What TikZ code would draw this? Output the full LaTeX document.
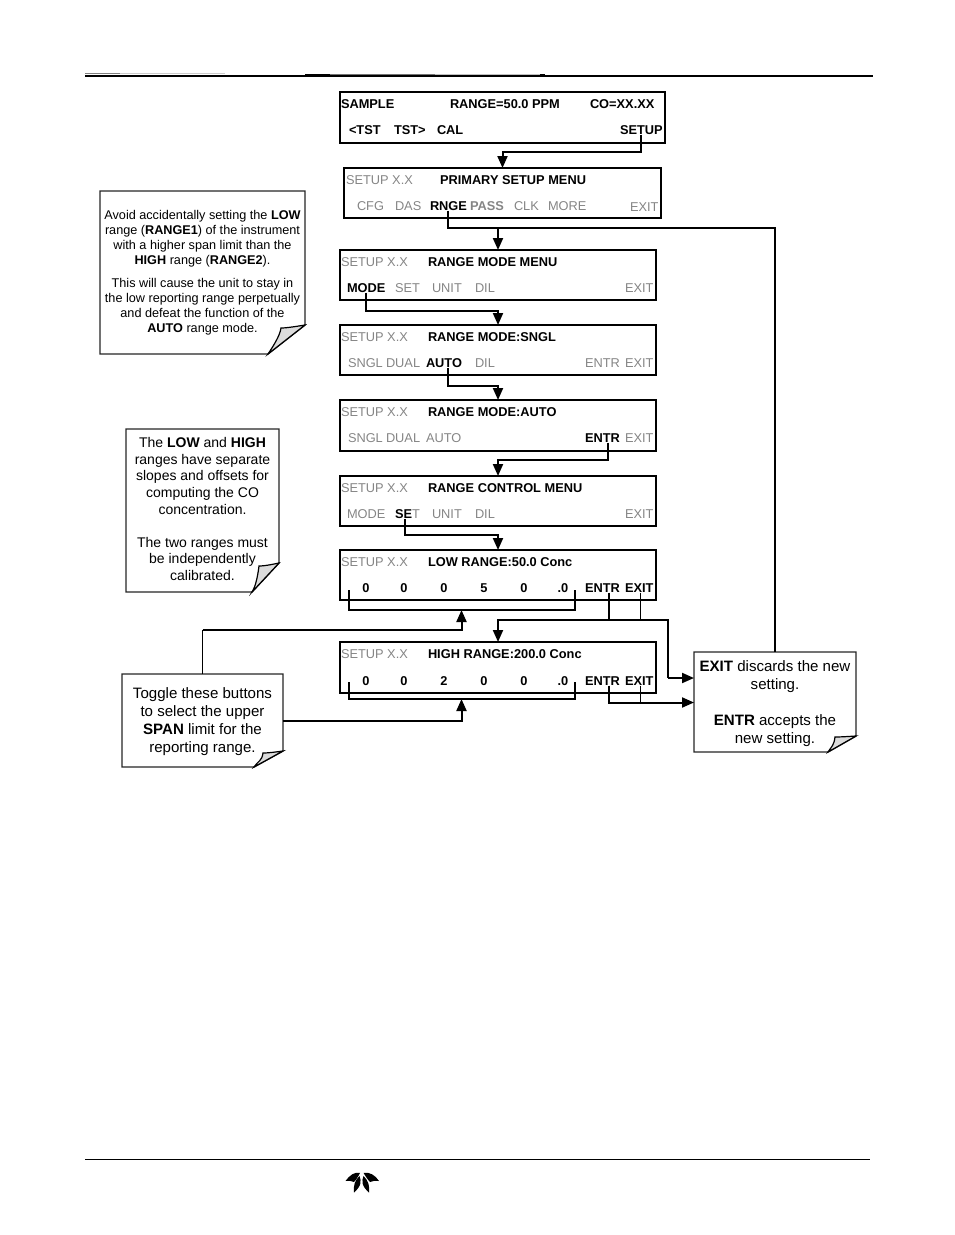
\documentclass[tikz,border=0pt]{standalone}
\usepackage{fontspec}
\setmainfont{Liberation Sans}
\usetikzlibrary{arrows.meta,calc}
\definecolor{dim}{HTML}{858585}
\definecolor{foldgrey}{HTML}{DCDCDC}
\newcommand{\mfont}{\fontsize{9.6pt}{11pt}\selectfont}
\tikzset{
  x=0.75pt,y=-0.75pt,
  menubg/.style={draw=black,line width=1.5pt,inner sep=0pt,outer sep=0pt},
  notebg/.style={inner sep=0pt,outer sep=0pt},
  notefill/.style={fill=white,draw=black!85,line width=1.1pt,line join=miter},
  foldfill/.style={fill=foldgrey,draw=black,line width=0.9pt},
  mg/.style={anchor=base west,inner sep=0pt,outer sep=0pt,text=dim,font=\mfont},
  mb/.style={anchor=base west,inner sep=0pt,outer sep=0pt,text=black,font=\mfont\bfseries},
  mgb/.style={mb,text=dim},
  dg/.style={mb,anchor=base},
  conn/.style={draw=black,line width=1.5pt,line join=miter},
  thin conn/.style={draw=black,line width=0.8pt},
  arr/.style={conn,-{Triangle[length=9pt,width=7.5pt]}},
  notetext/.style={align=center,inner sep=0pt,outer sep=0pt,text=black},
}
\newcommand{\menubox}[5]{\node[menubg,minimum width=(#4-#2)*0.75pt,minimum height=(#5-#3)*0.75pt] (#1) at ({(#2+#4)/2},{(#3+#5)/2}) {};}
\newcommand{\mt}[5]{\node[#2] (#1) at (#3,#4+4.5) {#5};}
\newcommand{\notebox}[9]{%
  \node[notebg,minimum width=(#4-#2)*0.75pt,minimum height=(#5-#3)*0.75pt] (#1) at ({(#2+#4)/2},{(#3+#5)/2}) {};
  \draw[notefill] (#2,#3) -- (#4,#3) -- (#4,#6) -- (#7,#5) -- (#2,#5) -- cycle;
  \draw[foldfill] (#4,#6) .. controls ({#8+6},#9) and ({#8+2},#9) .. (#8,#9) .. controls ({#8-1},{#9+8}) and ({#7+4},{#5-6}) .. (#7,#5) -- cycle;
}
\begin{document}
\begin{tikzpicture}
\useasboundingbox (0,0) rectangle (954,1235);
% page rules
\coordinate (hl) at (85,76); \coordinate (hr) at (873,76);
\draw[black,line width=1.1pt] (hl) -- (hr);
\draw[black,line width=1.5pt] (305,75.3) -- (545,75.3);
\draw[gray,line width=0.7pt] (85,73.5) -- (120,73.5);
\draw[black!20,line width=0.7pt] (120,73.5) -- (225,73.5);
\draw[black!55,line width=0.7pt] (330,74) -- (435,74);
\draw[black!25,line width=0.7pt] (435,74) -- (540,74);
\coordinate (fl) at (85,1159); \coordinate (fr) at (870,1159);
\draw[black,line width=0.6pt] (fl) -- (fr);
% logo
\fill[black] (345.5,1181) .. controls (350,1175) and (354,1172) .. (360,1172.8) .. controls (358,1177) and (356,1180) .. (354,1182) .. controls (351,1180.5) and (348,1180.5) .. (345.5,1181) -- cycle;
\fill[black] (379,1181) .. controls (375,1175) and (370,1172) .. (363.5,1172.8) .. controls (366,1177) and (368,1180) .. (370,1182) .. controls (373,1180.5) and (376,1180.5) .. (379,1181) -- cycle;
\fill[black] (354,1192.5) .. controls (353,1186) and (355,1180) .. (359.5,1176) .. controls (361.5,1181) and (361.5,1186) .. (354,1192.5) -- cycle;
\fill[black] (369,1192.5) .. controls (370,1186) and (368,1180) .. (363.5,1176) .. controls (361.5,1181) and (361.5,1186) .. (369,1192.5) -- cycle;
% menu boxes
\menubox{m0}{340}{92}{665}{143}
\menubox{m1}{344}{168}{661}{218}
\menubox{m2}{340}{250}{656}{300}
\menubox{m3}{340}{325}{656}{375}
\menubox{m4}{340}{400}{656}{451}
\menubox{m5}{340}{476}{656}{526}
\menubox{m6}{340}{550}{656}{600}
\menubox{m7}{340}{642}{656}{693}
% m0
\mt{a1}{mb}{341}{104}{SAMPLE}
\mt{a2}{mb}{450}{104}{RANGE=50.0 PPM}
\mt{a3}{mb}{590}{104}{CO=XX.XX}
\mt{a4}{mb}{349}{130}{<TST}
\mt{a5}{mb}{394}{130}{TST>}
\mt{a6}{mb}{437}{130}{CAL}
\mt{a7}{mb}{620}{130}{SETUP}
% m1
\mt{b1}{mg}{346}{180}{SETUP X.X}
\mt{b2}{mb}{440}{180}{PRIMARY SETUP MENU}
\mt{b3}{mg}{357}{206}{CFG}
\mt{b4}{mg}{395}{206}{DAS}
\mt{b5}{mb}{430}{206}{RNGE}
\mt{b6}{mgb}{470}{206}{PASS}
\mt{b7}{mg}{514}{206}{CLK}
\mt{b8}{mg}{548}{206}{MORE}
\mt{b9}{mg}{630}{207}{EXIT}
% m2
\mt{c1}{mg}{341}{262}{SETUP X.X}
\mt{c2}{mb}{428}{262}{RANGE MODE MENU}
\mt{c3}{mb}{347}{288}{MODE}
\mt{c4}{mg}{395}{288}{SET}
\mt{c5}{mg}{432}{288}{UNIT}
\mt{c6}{mg}{475}{288}{DIL}
\mt{c7}{mg}{625}{288}{EXIT}
% m3
\mt{d1}{mg}{341}{337}{SETUP X.X}
\mt{d2}{mb}{428}{337}{RANGE MODE:SNGL}
\mt{d3}{mg}{348}{363}{SNGL}
\mt{d4}{mg}{386}{363}{DUAL}
\mt{d5}{mb}{426}{363}{AUTO}
\mt{d6}{mg}{475}{363}{DIL}
\mt{d7}{mg}{585}{363}{ENTR}
\mt{d8}{mg}{625}{363}{EXIT}
% m4
\mt{e1}{mg}{341}{412}{SETUP X.X}
\mt{e2}{mb}{428}{412}{RANGE MODE:AUTO}
\mt{e3}{mg}{348}{438}{SNGL}
\mt{e4}{mg}{386}{438}{DUAL}
\mt{e5}{mg}{426}{438}{AUTO}
\mt{e7}{mb}{585}{438}{ENTR}
\mt{e8}{mg}{625}{438}{EXIT}
% m5
\mt{f1}{mg}{341}{488}{SETUP X.X}
\mt{f2}{mb}{428}{488}{RANGE CONTROL MENU}
\mt{f3}{mg}{347}{514}{MODE}
\mt{f4}{mb}{395}{514}{SE{\mdseries\color{dim}T}}
\mt{f5}{mg}{432}{514}{UNIT}
\mt{f6}{mg}{475}{514}{DIL}
\mt{f7}{mg}{625}{514}{EXIT}
% m6
\mt{g1}{mg}{341}{562}{SETUP X.X}
\mt{g2}{mb}{428}{562}{LOW RANGE:50.0 Conc}
\mt{g3}{dg}{366}{588}{0}
\mt{g4}{dg}{404}{588}{0}
\mt{g5}{dg}{444}{588}{0}
\mt{g6}{dg}{484}{588}{5}
\mt{g7}{dg}{524}{588}{0}
\mt{g8}{dg}{563}{588}{.0}
\mt{g9}{mb}{585}{588}{ENTR}
\mt{g10}{mb}{625}{588}{EXIT}
% m7
\mt{h1}{mg}{341}{654}{SETUP X.X}
\mt{h2}{mb}{428}{654}{HIGH RANGE:200.0 Conc}
\mt{h3}{dg}{366}{681}{0}
\mt{h4}{dg}{404}{681}{0}
\mt{h5}{dg}{444}{681}{2}
\mt{h6}{dg}{484}{681}{0}
\mt{h7}{dg}{524}{681}{0}
\mt{h8}{dg}{563}{681}{.0}
\mt{h9}{mb}{585}{681}{ENTR}
\mt{h10}{mb}{625}{681}{EXIT}
% connector route points
\coordinate (r1) at (502.5,152);
\coordinate (r2) at (498,228);
\coordinate (r2e) at (775,228);
\coordinate (r3) at (498,311);
\coordinate (r4) at (498,386);
\coordinate (r5) at (498,460);
\coordinate (r6) at (498,535);
\coordinate (bl6) at (349,590); \coordinate (bm6) at (349,610); \coordinate (bn6) at (575,610); \coordinate (br6) at (575,590);
\coordinate (bl7) at (349,682); \coordinate (bm7) at (349,699); \coordinate (bn7) at (575,699); \coordinate (br7) at (575,682);
\coordinate (t6) at (461.5,610);
\coordinate (t7) at (461.5,699);
\coordinate (u6a) at (202.5,630);
\coordinate (u6b) at (461.5,630);
\coordinate (u7a) at (283,720.5);
\coordinate (u7b) at (461.5,720.5);
\coordinate (r7) at (498,620);
\coordinate (j6) at (608.5,620);
\coordinate (k6) at (640.5,620);
\coordinate (q6) at (668,620);
\coordinate (q7) at (668,678);
\coordinate (j7) at (608.5,702.5);
\coordinate (k7) at (640.5,702.5);
% callouts
\notebox{n1}{100}{191}{305}{354}{325}{268}{281}{328}
\notebox{n2}{126}{429}{279}{592}{563}{252}{259}{566}
\notebox{n3}{122}{674}{283}{767}{751}{254}{263}{753}
\notebox{n4}{694}{652}{856}{752}{736}{828}{835}{737}
\node[notetext,font=\fontsize{9.5pt}{11.25pt}\selectfont] (n1t) at (202.5,272.5) {Avoid accidentally setting the \textbf{LOW}\\range (\textbf{RANGE1}) of the instrument\\with a higher span limit than the\\\textbf{HIGH} range (\textbf{RANGE2}).\\[5.6pt]This will cause the unit to stay in\\the low reporting range perpetually\\and defeat the function of the\\\textbf{AUTO} range mode.};
\node[notetext,font=\fontsize{10.5pt}{12.4pt}\selectfont] (n2t) at (202.5,509) {The \textbf{LOW} and \textbf{HIGH}\\ranges have separate\\slopes and offsets for\\computing the CO\\concentration.\\[12.4pt]The two ranges must\\be independently\\calibrated.};
\node[notetext,font=\fontsize{11.3pt}{13.5pt}\selectfont] (n3t) at (202.5,722) {Toggle these buttons\\to select the upper\\\textbf{SPAN} limit for the\\reporting range.};
\node[notetext,font=\fontsize{11.3pt}{13.5pt}\selectfont] (n4t) at (775,704) {\textbf{EXIT} discards the new\\setting.\\[13.5pt]\textbf{ENTR} accepts the\\new setting.};
% connectors
\draw[arr] (a7.south) |- (r1) -- (m1.north);
\draw[conn] (b5.south) |- (r2e) -- (n4.north);
\draw[arr] (r2) -- (m2.north);
\draw[arr] (c3.south) |- (r3) -- (m3.north);
\draw[arr] ([xshift=3pt]d5.south) |- (r4) -- (m4.north);
\draw[arr] ([xshift=4.5pt]e7.south) |- (r5) -- (m5.north);
\draw[arr] ([xshift=-1.5pt]f4.south) |- (r6) -- (m6.north);
\draw[conn] (bl6) -- (bm6) -- (bn6) -- (br6);
\draw[conn] (bl7) -- (bm7) -- (bn7) -- (br7);
\draw[thin conn] (n3.north -| u6a) -- (u6a);
\draw[arr] (u6a) -- (u6b) -- (t6);
\draw[arr] (u7a) -- (u7b) -- (t7);
\draw[conn] (j6 |- g9.south) -- (j6);
\draw[arr] (k6) -- (r7) -- (m7.north);
\draw[thin conn] (k6 |- g10.south) -- (k6);
\draw[thin conn] (k6) -- (q6) -- (q7);
\draw[arr] (q7) -- (n4.west |- q7);
\draw[conn] (j7 |- h9.south) -- (j7) -- (k7);
\draw[thin conn] (k7 |- h10.south) -- (k7);
\draw[arr] (k7) -- (n4.west |- k7);
\end{tikzpicture}
\end{document}
